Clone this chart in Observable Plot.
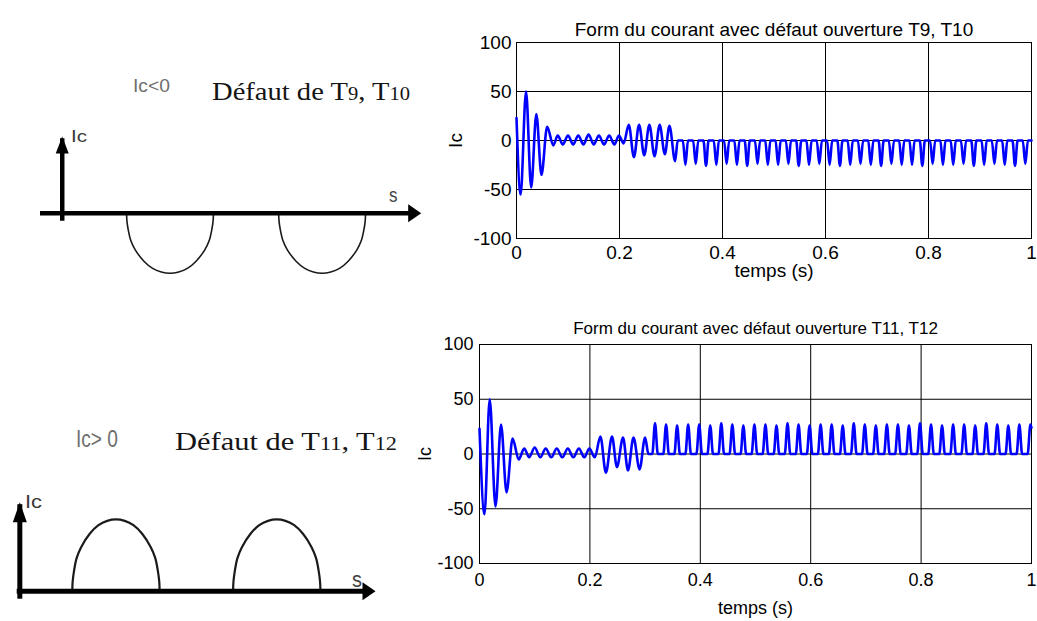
<!DOCTYPE html>
<html><head><meta charset="utf-8">
<script src="https://cdn.jsdelivr.net/npm/d3@7"></script>
<script src="https://cdn.jsdelivr.net/npm/@observablehq/plot@0.6"></script>
<style>
html,body{margin:0;padding:0;background:#fff;}
#fig{position:relative;width:1037px;height:621px;overflow:hidden;background:#fff;}
#fig svg{position:absolute;}
</style></head><body><div id="fig"></div>
<script>
// ---------- chart data ----------
const timeTicks = [0, 0.2, 0.4, 0.6, 0.8, 1];
const icTicks = [-100, -50, 0, 50, 100];
const topTitle = "Form du courant avec défaut ouverture T9, T10";
const bottomTitle = "Form du courant avec défaut ouverture T11, T12";
const xLabel = "temps (s)";
const yLabel = "Ic";

// top chart (défaut T9, T10): extrema
const topTime = [
  0, 0.008, 0.0185, 0.0285, 0.0385, 0.0485, 0.0595, 0.0715,
  0.08, 0.09, 0.1, 0.11, 0.12, 0.13, 0.14, 0.15, 0.16, 0.17, 0.18, 0.19, 0.199, 0.208,
  0.218, 0.228, 0.238, 0.248, 0.258, 0.268, 0.278, 0.288, 0.297,
  0.308, 0.313,
  0.323, 0.328, 0.333, 0.343, 0.348, 0.353, 0.363, 0.368, 0.373, 0.383, 0.388, 0.393,
  0.403, 0.408, 0.413, 0.423, 0.428, 0.433, 0.443, 0.448, 0.453, 0.463, 0.468, 0.473, 0.483, 0.488, 0.493,
  0.503, 0.508, 0.513, 0.523, 0.528, 0.533, 0.543, 0.548, 0.553, 0.563, 0.568, 0.573, 0.583, 0.588, 0.593,
  0.603, 0.608, 0.613, 0.623, 0.628, 0.633, 0.643, 0.648, 0.653, 0.663, 0.668, 0.673, 0.683, 0.688, 0.693,
  0.703, 0.708, 0.713, 0.723, 0.728, 0.733, 0.743, 0.748, 0.753, 0.763, 0.768, 0.773, 0.783, 0.788, 0.793,
  0.803, 0.808, 0.813, 0.823, 0.828, 0.833, 0.843, 0.848, 0.853, 0.863, 0.868, 0.873, 0.883, 0.888, 0.893,
  0.903, 0.908, 0.913, 0.923, 0.928, 0.933, 0.943, 0.948, 0.953, 0.963, 0.968, 0.973, 0.983, 0.988, 0.993,
  1
];
const topIc = [
  23, -55, 50, -48, 27, -35, 14, -5,
  5, -4, 5, -4, 5, -4, 6, -4, 5, -4, 5, -4, 5, -3,
  16, -17, 16, -15, 16, -16, 16, -14, 15,
  -21, 0,
  0, -25, 0, 0, -24, 0, 0, -26, 0, 0, -25, 0,
  0, -24, 0, 0, -25, 0, 0, -26, 0, 0, -24, 0, 0, -25, 0,
  0, -25, 0, 0, -24, 0, 0, -26, 0, 0, -25, 0, 0, -24, 0,
  0, -25, 0, 0, -26, 0, 0, -25, 0, 0, -24, 0, 0, -25, 0,
  0, -26, 0, 0, -24, 0, 0, -25, 0, 0, -25, 0, 0, -26, 0,
  0, -24, 0, 0, -25, 0, 0, -25, 0, 0, -24, 0, 0, -26, 0,
  0, -25, 0, 0, -24, 0, 0, -25, 0, 0, -26, 0, 0, -24, 0,
  0
];

// bottom chart (défaut T11, T12)
const botTime = [
  0, 0.009, 0.0185, 0.029, 0.039, 0.049, 0.06, 0.071,
  0.081, 0.09, 0.1, 0.11, 0.12, 0.13, 0.14, 0.15, 0.16, 0.17, 0.18, 0.19, 0.199, 0.209,
  0.219, 0.229, 0.24, 0.249, 0.26, 0.269, 0.279, 0.29, 0.3,
  0.306,
  0.313, 0.318, 0.323, 0.333, 0.338, 0.343, 0.353, 0.358, 0.363, 0.373, 0.378, 0.383, 0.393, 0.398, 0.403,
  0.413, 0.418, 0.423, 0.433, 0.438, 0.443, 0.453, 0.458, 0.463, 0.473, 0.478, 0.483, 0.493, 0.498, 0.503,
  0.513, 0.518, 0.523, 0.533, 0.538, 0.543, 0.553, 0.558, 0.563, 0.573, 0.578, 0.583, 0.593, 0.598, 0.603,
  0.613, 0.618, 0.623, 0.633, 0.638, 0.643, 0.653, 0.658, 0.663, 0.673, 0.678, 0.683, 0.693, 0.698, 0.703,
  0.713, 0.718, 0.723, 0.733, 0.738, 0.743, 0.753, 0.758, 0.763, 0.773, 0.778, 0.783, 0.793, 0.798, 0.803,
  0.813, 0.818, 0.823, 0.833, 0.838, 0.843, 0.853, 0.858, 0.863, 0.873, 0.878, 0.883, 0.893, 0.898, 0.903,
  0.913, 0.918, 0.923, 0.933, 0.938, 0.943, 0.953, 0.958, 0.963, 0.973, 0.978, 0.983,
  0.993, 0.998, 1
];
const botIc = [
  23, -55, 50, -48, 27, -35, 14, -5,
  5, -3, 6, -3, 5, -3, 5, -3, 5, -3, 5, -3, 5, -3,
  16, -17, 16, -12, 15, -15, 15, -14, 15,
  0,
  0, 28, 0, 0, 27, 0, 0, 26, 0, 0, 27, 0, 0, 27, 0,
  0, 26, 0, 0, 28, 0, 0, 27, 0, 0, 26, 0, 0, 27, 0,
  0, 27, 0, 0, 26, 0, 0, 28, 0, 0, 27, 0, 0, 26, 0,
  0, 27, 0, 0, 27, 0, 0, 26, 0, 0, 28, 0, 0, 27, 0,
  0, 26, 0, 0, 27, 0, 0, 27, 0, 0, 26, 0, 0, 28, 0,
  0, 27, 0, 0, 26, 0, 0, 27, 0, 0, 27, 0, 0, 26, 0,
  0, 28, 0, 0, 27, 0, 0, 26, 0, 0, 27, 0,
  0, 27, 24
];

// ---------- sketch data (arbitrary units: s along, Ic up) ----------
const sketchTopAxisS = [-0.25, 4.13];
const sketchTopAxisIc = [0, 1.28];
const sketchTopLobeStart = [0.74, 2.49];
const sketchBotAxisS = [-0.03, 4.07];
const sketchBotAxisIc = [0, 1.24];
const sketchBotLobeStart = [0.6, 2.44];
const lobeU = [0, 0.005, 0.02, 0.05, 0.1, 0.2, 0.3, 0.4, 0.5, 0.6, 0.7, 0.8, 0.9, 0.95, 0.98, 0.995, 1];
const lobeV = [0, 0.14, 0.28, 0.46, 0.61, 0.8, 0.92, 0.98, 1, 0.98, 0.92, 0.8, 0.61, 0.46, 0.28, 0.14, 0];

// ---------- build ----------
const fig = document.getElementById("fig");
const fmt = d => String(d);
const BLUE = "#0000ff";

function signalChart({time, ic, title, left, top, width, height, mL, mR, mT, mB, font, titleSize, titleDy, padX, padY, yLabOff, xLabOff, family}) {
  const rows = time.map((t, i) => ({t, ic: ic[i]}));
  const p = Plot.plot({
    width, height, marginLeft: mL, marginRight: mR, marginTop: mT, marginBottom: mB,
    style: {fontFamily: family, fontSize: font + "px", color: "#000", background: "transparent"},
    x: {domain: [0, 1]},
    y: {domain: [-100, 100]},
    marks: [
      Plot.gridX(timeTicks, {stroke: "#000", strokeOpacity: 1, strokeWidth: 1}),
      Plot.gridY(icTicks, {stroke: "#000", strokeOpacity: 1, strokeWidth: 1}),
      Plot.frame({stroke: "#000", strokeWidth: 1}),
      Plot.line(rows, {x: "t", y: "ic", stroke: BLUE, strokeWidth: 2.6, curve: "monotone-x"}),
      Plot.axisX(timeTicks, {tickSize: 0, tickPadding: padX, tickFormat: fmt, label: xLabel, labelAnchor: "center", labelArrow: "none", labelOffset: xLabOff}),
      Plot.axisY(icTicks, {tickSize: 0, tickPadding: padY, tickFormat: fmt, label: yLabel, labelAnchor: "center", labelArrow: "none", labelOffset: yLabOff}),
      Plot.text([title], {text: d => d, frameAnchor: "top", dy: titleDy, fontSize: titleSize})
    ]
  });
  p.style.left = left + "px"; p.style.top = top + "px";
  fig.appendChild(p);
}

signalChart({time: topTime, ic: topIc, title: topTitle, left: 440, top: 0, width: 597, height: 290,
  mL: 76, mR: 6, mT: 42, mB: 52, font: 19, titleSize: 19, titleDy: -20, padX: 7, padY: 5, yLabOff: 68, xLabOff: 38,
  family: "'Liberation Sans', Arial, sans-serif"});
signalChart({time: botTime, ic: botIc, title: bottomTitle, left: 410, top: 300, width: 627, height: 321,
  mL: 69, mR: 6, mT: 44, mB: 58, font: 18, titleSize: 17, titleDy: -23, padX: 10, padY: 6, yLabOff: 61, xLabOff: 50,
  family: "'Liberation Sans', Arial, sans-serif"});

function head(len, half) {
  return {draw(ctx) { ctx.moveTo(0, 0); ctx.lineTo(half, len); ctx.lineTo(-half, len); ctx.closePath(); }};
}

function sketch({axisS, axisIc, lobeStart, sign, left, top, width, height, mL, mR, mT, mB, axisW, lobeW, hHead, vHead, yDomain}) {
  const lobes = lobeStart.flatMap((s0, k) => lobeU.map((u, i) => ({s: s0 + u, ic: sign * lobeV[i], lobe: k})));
  const p = Plot.plot({
    width, height, marginLeft: mL, marginRight: mR, marginTop: mT, marginBottom: mB,
    style: {background: "transparent"},
    x: {domain: axisS, axis: null},
    y: {domain: yDomain, axis: null},
    marks: [
      Plot.line(lobes, {x: "s", y: "ic", z: "lobe", stroke: "#1a1a1a", strokeWidth: lobeW, curve: "catmull-rom"}),
      Plot.ruleY([0], {x1: axisS[0], x2: axisS[1], stroke: "#000", strokeWidth: axisW, insetRight: 8}),
      Plot.ruleX([0], {y1: axisIc[0], y2: axisIc[1], stroke: "#000", strokeWidth: axisW, insetTop: 8, insetBottom: -axisW / 2}),
      Plot.dot([{s: axisS[1], ic: 0}], {x: "s", y: "ic", symbol: head(hHead[0], hHead[1]), rotate: 90, fill: "#000", stroke: "none"}),
      Plot.dot([{s: 0, ic: axisIc[1]}], {x: "s", y: "ic", symbol: head(vHead[0], vHead[1]), rotate: 0, fill: "#000", stroke: "none"})
    ]
  });
  p.style.left = left + "px"; p.style.top = top + "px";
  fig.appendChild(p);
}

sketch({axisS: sketchTopAxisS, axisIc: sketchTopAxisIc, lobeStart: sketchTopLobeStart, sign: -1,
  left: 0, top: 100, width: 440, height: 190, mL: 40, mR: 19.3, mT: 36, mB: 17.3,
  axisW: 4.5, lobeW: 1.6, hHead: [13, 9], vHead: [17, 6.5], yDomain: [-1, 1.28]});
sketch({axisS: sketchBotAxisS, axisIc: sketchBotAxisIc, lobeStart: sketchBotLobeStart, sign: 1,
  left: 0, top: 480, width: 420, height: 130, mL: 16.7, mR: 45, mT: 21.7, mB: 19.3,
  axisW: 5, lobeW: 2.2, hHead: [13, 9], vHead: [20, 7], yDomain: [0, 1.24]});

// ---------- sketch annotations ----------
const NS = "http://www.w3.org/2000/svg";
const notes = document.createElementNS(NS, "svg");
notes.setAttribute("width", 1037); notes.setAttribute("height", 621);
notes.style.left = "0px"; notes.style.top = "0px"; notes.style.pointerEvents = "none";
fig.appendChild(notes);
const SANS = "'Liberation Sans', Arial, sans-serif";
const SERIF = "'Liberation Serif', 'Times New Roman', serif";
function note(parts, x, y, size, fill, len, family) {
  const t = document.createElementNS(NS, "text");
  t.setAttribute("x", x); t.setAttribute("y", y);
  t.setAttribute("font-family", family); t.setAttribute("font-size", size); t.setAttribute("fill", fill);
  if (len) { t.setAttribute("textLength", len); t.setAttribute("lengthAdjust", "spacingAndGlyphs"); }
  for (const [s, sz] of parts) {
    const ts = document.createElementNS(NS, "tspan");
    if (sz) ts.setAttribute("font-size", sz);
    ts.textContent = s; t.appendChild(ts);
  }
  notes.appendChild(t);
}
note([["Ic<0"]], 133, 92, 19, "#6e6e6e", 37, SANS);
note([["Défaut de T"], ["9", 18], [", T"], ["10", 18]], 212, 99.5, 25, "#151515", 198, SERIF);
note([["Ic"]], 71, 142, 17, "#3a3a3a", 16, SANS);
note([["s"]], 389, 202, 21, "#444", 8.5, SANS);
note([["Ic> 0"]], 76, 447, 23, "#6e6e6e", 42, SANS);
note([["Défaut de T"], ["11", 19], [", T"], ["12", 19]], 175, 449.5, 26, "#151515", 222, SERIF);
note([["Ic"]], 25, 508, 18, "#3a3a3a", 17, SANS);
note([["s"]], 352, 587, 22, "#444", 10, SANS);
</script></body></html>
